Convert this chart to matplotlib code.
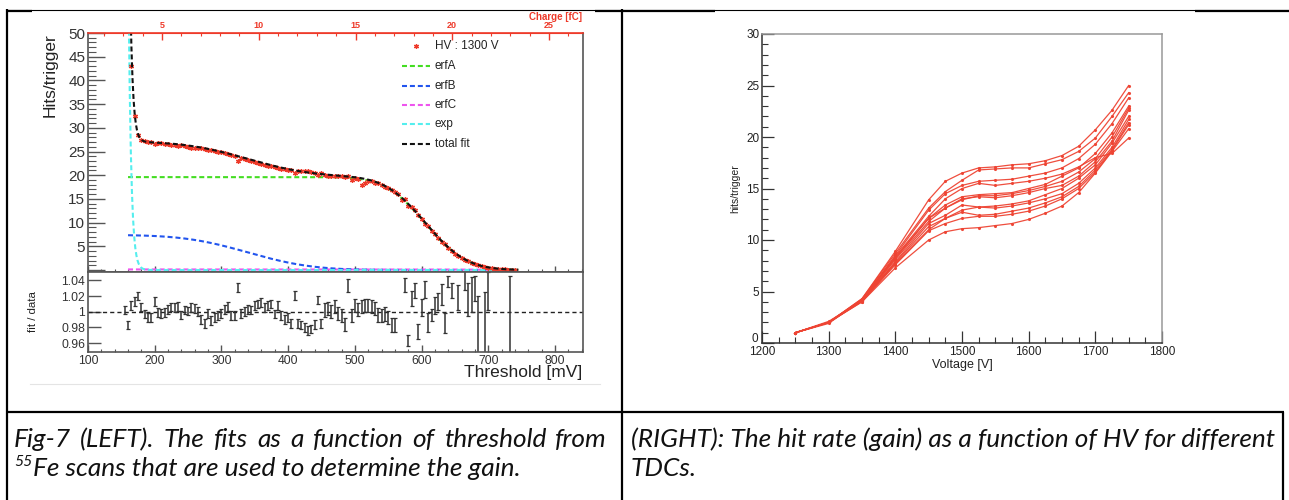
import math
import numpy as np
import matplotlib
matplotlib.use("Agg")
import matplotlib.pyplot as plt
from matplotlib.lines import Line2D
from matplotlib.ticker import MultipleLocator, FixedLocator
from matplotlib import font_manager

W, H = 1289, 500

# ---------------- left chart: threshold scan at HV 1300 V ----------------
scan_thr = list(range(165, 745, 5))
scan_hits = [
    43.0, 32.4, 28.4, 27.5, 27.3, 27.1, 27.0, 26.5, 26.8, 26.7,
    26.6, 26.5, 26.3, 26.3, 26.2, 26.3, 26.1, 26.0, 25.8, 25.7,
    25.8, 25.7, 25.6, 25.4, 25.3, 25.1, 25.0, 24.8, 24.6, 24.4,
    24.2, 24.1, 23.0, 23.6, 23.4, 23.2, 23.0, 22.8, 22.6, 22.4,
    22.2, 22.0, 21.9, 21.8, 21.6, 21.4, 21.3, 21.2, 21.0, 20.5,
    20.8, 20.9, 20.8, 20.9, 20.7, 20.5, 20.1, 20.4, 20.0, 19.9,
    19.9, 19.8, 19.8, 19.8, 19.7, 19.9, 19.0, 19.5, 19.3, 18.0,
    18.3, 18.8, 18.7, 18.4, 18.3, 18.0, 17.6, 17.3, 16.9, 16.5,
    16.0, 14.7, 14.9, 13.6, 13.2, 12.6, 11.6, 10.7, 9.7, 9.3,
    8.3, 7.5, 6.7, 5.9, 5.4, 4.6, 4.1, 3.4, 3.0, 2.5,
    2.1, 1.8, 1.5, 1.2, 1.0, 0.8, 0.6, 0.5, 0.4, 0.3,
    0.25, 0.18, 0.13, 0.1, 0.08, 0.05,
]

# fit components: amplitude, mean, sigma (erf) / amplitude, x0, tau (exp)
fit_lo, fit_hi = 160, 745
erfA_par = (19.6, 606, 48)
erfB_par = (7.4, 340, 75)
erfC_par = (0.12, 700, 60)
exp_par = (18.0, 165.5, 4.0)

# fit / data ratio panel
res_thr = list(range(155, 565, 5)) + [575, 580, 585, 590, 595, 600, 605, 610, 615, 620,
                                      625, 630, 635, 640, 645, 655, 665, 670, 675, 680,
                                      685, 695, 700, 732]
res_ratio = [
    1.002, 0.983, 1.008, 1.013, 1.020, 1.006, 0.997, 0.993, 0.993, 1.013,
    0.999, 0.998, 0.999, 1.003, 1.006, 1.005, 1.007, 0.996, 1.002, 1.001,
    1.005, 1.004, 1.000, 0.990, 0.985, 0.998, 0.989, 0.993, 0.995, 0.998,
    1.003, 1.007, 0.995, 0.995, 1.031, 0.998, 1.000, 1.003, 1.002, 1.008,
    1.010, 1.012, 1.005, 1.008, 1.010, 0.997, 1.008, 0.995, 0.990, 0.993,
    0.985, 1.021, 0.985, 0.983, 0.980, 0.976, 0.978, 0.984, 1.015, 0.985,
    1.002, 1.004, 1.000, 1.007, 0.998, 0.995, 0.984, 1.033, 0.995, 1.008,
    1.003, 1.007, 1.008, 1.008, 1.007, 1.004, 0.996, 0.995, 0.997, 0.993,
    0.983, 0.983,
    1.034, 0.963, 1.017, 1.027, 0.975, 1.005, 1.028, 0.986, 0.996, 1.008,
    1.013, 1.022, 0.986, 1.038, 1.027, 1.018, 1.040, 1.016, 1.022, 1.030,
    0.975, 0.980, 1.026, 0.995,
]
res_err = [0.0055] * 60 + [0.0085] * 22 + [
    0.009, 0.007, 0.010, 0.010, 0.010, 0.011, 0.011, 0.012, 0.008, 0.011,
    0.011, 0.013, 0.013, 0.007, 0.010, 0.016, 0.012, 0.021, 0.022, 0.016,
    0.045, 0.045, 0.024, 0.050,
]

# ---------------- right chart: hits/trigger vs HV, one line per TDC ----------------
hv_volt = [1250, 1300, 1350, 1400, 1450, 1475, 1500, 1525, 1550, 1575,
           1600, 1625, 1650, 1675, 1700, 1725, 1750]
tdc_01 = [1.0, 2.0, 4.3, 8.9, 13.9, 15.7, 16.5, 17.0, 17.1, 17.3, 17.4, 17.7, 18.2, 19.1, 20.7, 22.6, 25.0]
tdc_02 = [1.0, 2.0, 4.3, 8.7, 13.1, 14.7, 15.8, 16.8, 16.9, 17.0, 17.0, 17.4, 17.8, 18.6, 19.9, 22.0, 24.3]
tdc_03 = [1.0, 2.0, 4.2, 8.5, 12.9, 14.5, 15.3, 15.7, 15.8, 15.9, 16.2, 16.5, 17.0, 17.9, 19.3, 21.3, 23.8]
tdc_04 = [1.0, 2.0, 4.2, 8.4, 12.3, 14.0, 15.0, 15.5, 15.3, 15.5, 15.7, 16.0, 16.4, 17.1, 18.0, 18.4, 19.9]
tdc_05 = [1.0, 2.0, 4.2, 8.3, 12.1, 13.4, 14.2, 14.4, 14.5, 14.6, 15.0, 15.4, 16.2, 17.0, 18.4, 20.4, 23.0]
tdc_06 = [1.0, 1.9, 4.2, 8.2, 12.1, 13.1, 13.9, 14.3, 14.3, 14.5, 14.8, 15.2, 15.7, 16.6, 17.9, 20.0, 22.8]
tdc_07 = [1.0, 2.0, 4.1, 8.1, 11.8, 13.1, 14.0, 14.2, 14.1, 14.3, 14.6, 15.0, 15.3, 16.2, 17.6, 19.6, 22.6]
tdc_08 = [1.0, 2.0, 4.1, 7.9, 11.6, 12.4, 13.4, 13.2, 13.3, 13.5, 13.8, 14.4, 15.0, 16.0, 17.3, 19.4, 22.0]
tdc_09 = [1.0, 2.0, 4.1, 7.8, 11.3, 12.1, 12.9, 13.2, 13.1, 13.3, 13.6, 14.0, 14.5, 15.5, 17.0, 19.0, 21.7]
tdc_10 = [1.0, 2.1, 4.1, 7.7, 11.0, 12.1, 12.7, 12.4, 12.5, 12.8, 13.1, 13.6, 14.2, 15.2, 16.8, 18.8, 21.4]
tdc_11 = [1.0, 2.0, 4.0, 7.6, 10.9, 11.6, 12.1, 12.3, 12.3, 12.5, 12.8, 13.3, 14.0, 15.0, 16.6, 18.7, 21.2]
tdc_12 = [1.0, 2.0, 4.0, 7.3, 10.0, 10.8, 11.1, 11.2, 11.4, 11.6, 12.0, 12.6, 13.3, 14.6, 16.5, 18.6, 20.8]
tdc_curves = [tdc_01, tdc_02, tdc_03, tdc_04, tdc_05, tdc_06,
              tdc_07, tdc_08, tdc_09, tdc_10, tdc_11, tdc_12]

cap_left = ["Fig-7 (LEFT). The fits as a function of threshold from",
            "Fe scans that are used to determine the gain."]
cap_right = ["(RIGHT): The hit rate (gain) as a function of HV for different",
             "TDCs."]

plt.rcParams['font.family'] = ['Liberation Sans', 'DejaVu Sans']


def box(x0, y0, x1, y1):
    return [x0 / W, 1 - y1 / H, (x1 - x0) / W, (y1 - y0) / H]


def fx(x):
    return x / W


def fy(y):
    return 1 - y / H


def erfc_curve(x, amp, mu, sig):
    return np.array([amp / 2 * math.erfc((v - mu) / (math.sqrt(2) * sig)) for v in x])


def thr2q(t):
    return (np.asarray(t) - 66.0) / 29.0


def q2thr(q):
    return np.asarray(q) * 29.0 + 66.0


fig = plt.figure(figsize=(W / 100, H / 100), dpi=100)

grey = '#555555'
red = '#ee3a2a'
dash = (0, (2.4, 1.4))
c_green, c_blue, c_mag, c_cyan, c_black = '#44dd22', '#2255ee', '#ee55ee', '#55eeee', '#111111'

# ---- main fit panel ----
ax = fig.add_axes(box(88, 33, 583, 272))
ax.set_xlim(100, 842)
ax.set_ylim(-0.42, 50)
xf = np.linspace(fit_lo, fit_hi, 700)
fA = erfc_curve(xf, *erfA_par)
fB = erfc_curve(xf, *erfB_par)
fC = erfc_curve(xf, *erfC_par)
fE = exp_par[0] * np.exp(-(xf - exp_par[1]) / exp_par[2])
ftot = fA + fB + fC + fE
ax.plot(xf, fC, color=c_mag, lw=1.5, ls=dash)
ax.plot(xf, fA, color=c_green, lw=1.5, ls=dash)
ax.plot(xf, fB, color=c_blue, lw=1.5, ls=dash)
ax.plot(xf, fE, color=c_cyan, lw=1.5, ls=dash)
ax.plot(scan_thr, scan_hits, ls='none', marker=(6, 2, 0), ms=3.6, mew=0.9, color=red)
ax.plot(xf, ftot, color=c_black, lw=1.5, ls=dash)

ax.yaxis.set_major_locator(FixedLocator(range(0, 55, 5)))
ax.set_yticklabels([''] + [str(v) for v in range(5, 55, 5)])
ax.yaxis.set_minor_locator(MultipleLocator(1))
ax.xaxis.set_major_locator(MultipleLocator(100))
ax.xaxis.set_minor_locator(MultipleLocator(20))
ax.tick_params(axis='y', which='major', direction='in', length=12, width=1, color=grey,
               labelsize=11, pad=2, labelcolor='#333333')
ax.tick_params(axis='y', which='minor', direction='in', length=6, width=0.8, color=grey)
ax.tick_params(axis='x', which='major', direction='in', length=4.5, width=1, color=grey,
               labelbottom=False)
ax.tick_params(axis='x', which='minor', direction='in', length=2.2, width=0.8, color=grey)
for s in ('left', 'bottom', 'right'):
    ax.spines[s].set_color(grey)
    ax.spines[s].set_linewidth(1.2)
ax.spines['top'].set_color(red)
ax.spines['top'].set_linewidth(1.2)

sec = ax.secondary_xaxis('top', functions=(thr2q, q2thr))
sec.set_xticks([5, 10, 15, 20, 25])
sec.xaxis.set_minor_locator(MultipleLocator(1))
sec.tick_params(which='major', direction='in', length=5, width=1, color=red,
                labelcolor=red, labelsize=6.5, pad=2)
sec.tick_params(which='minor', direction='in', length=2.5, width=0.8, color=red)
sec.spines['top'].set_color(red)
for lab in sec.get_xticklabels():
    lab.set_fontweight('bold')
fig.text(fx(582), fy(17), 'Charge [fC]', color=red, fontsize=7, fontweight='bold',
         ha='right', va='center')

fig.text(fx(50), fy(33), 'Hits/trigger', rotation=90, ha='center', va='top',
         fontsize=12.5, color='#222222')

# legend
leg_rows = [('HV : 1300 V', None, 46), ('erfA', c_green, 66), ('erfB', c_blue, 86),
            ('erfC', c_mag, 105), ('exp', c_cyan, 124), ('total fit', c_black, 144)]
for label, col, yy in leg_rows:
    if col is None:
        fig.add_artist(Line2D([fx(416)], [fy(yy)], transform=fig.transFigure, ls='none',
                              marker=(6, 2, 0), ms=3.6, mew=0.9, color=red))
    else:
        fig.add_artist(Line2D([fx(402), fx(430)], [fy(yy), fy(yy)], transform=fig.transFigure,
                              color=col, lw=1.5, ls=dash))
    fig.text(fx(435), fy(yy), label, fontsize=8.5, va='center', ha='left', color='#222222')

# ---- ratio panel ----
ar = fig.add_axes(box(88, 272, 583, 352))
ar.set_xlim(100, 842)
ar.set_ylim(0.9487, 1.0506)
ar.axhline(1.0, color='#222222', lw=1, ls=(0, (3, 2.2)))
ar.errorbar(res_thr, res_ratio, yerr=res_err, fmt='none', ecolor='#333333',
            elinewidth=1.1, capsize=1.2, capthick=0.9)
ar.yaxis.set_major_locator(FixedLocator([0.96, 0.98, 1.0, 1.02, 1.04]))
ar.set_yticklabels(['0.96', '0.98', '1', '1.02', '1.04'])
ar.xaxis.set_major_locator(MultipleLocator(100))
ar.xaxis.set_minor_locator(MultipleLocator(20))
ar.tick_params(axis='y', which='major', direction='in', length=9, width=1, color=grey,
               labelsize=8.7, pad=2, labelcolor='#333333')
ar.tick_params(axis='x', which='major', direction='in', length=5, width=1, color=grey,
               labelsize=8.7, pad=2, labelcolor='#333333')
ar.tick_params(axis='x', which='minor', direction='in', length=2.5, width=0.8, color=grey)
for s in ar.spines.values():
    s.set_color(grey)
    s.set_linewidth(1.2)
fig.text(fx(33), fy(312), 'fit / data', rotation=90, ha='center', va='center',
         fontsize=8.2, color='#222222')
fig.text(fx(582), fy(372), 'Threshold [mV]', ha='right', va='center',
         fontsize=12.5, color='#222222')
fig.add_artist(Line2D([fx(30), fx(600)], [fy(384), fy(384)], transform=fig.transFigure,
                      color='#e4e4e4', lw=0.8))

# ---- right chart ----
bx = fig.add_axes(box(762, 34, 1162, 343))
bx.set_xlim(1200, 1800)
bx.set_ylim(0, 30)
for curve in tdc_curves:
    bx.plot(hv_volt, curve, color='#ee4433', lw=0.9, marker='.', ms=2.5, alpha=0.95)
bx.xaxis.set_major_locator(MultipleLocator(100))
bx.xaxis.set_minor_locator(MultipleLocator(25))
bx.yaxis.set_major_locator(FixedLocator(range(0, 35, 5)))
bx.set_yticklabels([''] + [str(v) for v in range(5, 35, 5)])
bx.yaxis.set_minor_locator(MultipleLocator(1))
bx.tick_params(which='major', direction='in', length=8.5, width=0.9, color='#333333',
               labelsize=8.5, pad=2, labelcolor='#222222')
bx.tick_params(which='minor', direction='in', length=4, width=0.8, color='#333333')
bx.spines['left'].set_color('#333333')
bx.spines['bottom'].set_color('#333333')
bx.spines['top'].set_color('#999999')
bx.spines['right'].set_color('#999999')
for s in bx.spines.values():
    s.set_linewidth(1.1)
bx.set_xlabel('Voltage [V]', fontsize=9, labelpad=1, color='#222222')
bx.set_ylabel('hits/trigger', fontsize=7.5, labelpad=4, color='#222222')
# the "0" of the y axis sits just above the "1200" of the x axis, as in ROOT
fig.text(fx(758), fy(344.5), '0', fontsize=8.5, ha='right', va='bottom', color='#222222')

# ---- table borders ----
def hline(y, x0, x1, lw):
    fig.add_artist(Line2D([fx(x0), fx(x1)], [fy(y), fy(y)], transform=fig.transFigure,
                          color='black', lw=lw, solid_capstyle='butt'))


def vline(x, y0, y1, lw):
    fig.add_artist(Line2D([fx(x), fx(x)], [fy(y0), fy(y1)], transform=fig.transFigure,
                          color='black', lw=lw, solid_capstyle='butt'))


hline(10, 7, 1289, 0.8)
hline(10.5, 7, 32, 1.6)
hline(10.5, 595, 715, 1.6)
hline(10.5, 1195, 1289, 1.6)
vline(7, 9, 500, 1.6)
vline(621.5, 9, 500, 1.6)
hline(412, 7, 1284, 1.6)
vline(1283, 412, 500, 1.6)

# ---- captions ----
def has_font(name):
    try:
        font_manager.findfont(font_manager.FontProperties(family=name), fallback_to_default=False)
        return True
    except Exception:
        return False


cap_family = 'Liberation Sans Narrow' if has_font('Liberation Sans Narrow') else 'Lato'
cap_kw = dict(family=[cap_family, 'DejaVu Sans'], style='italic', color='#111111')
renderer = fig.canvas.get_renderer()


def text_width(s, size):
    t = fig.text(0, 0, s, fontsize=size, **cap_kw)
    w = t.get_window_extent(renderer).width
    t.remove()
    return w


cap_size = 20 * 646 / text_width(cap_right[0], 20)
base1, base2 = 447, 476

# left line 1 is justified between x=14 and x=607
words = cap_left[0].split()
ww = [text_width(w, cap_size) for w in words]
gap = (593 - sum(ww)) / (len(words) - 1)
xpos = 14
for w, wid in zip(words, ww):
    fig.text(fx(xpos), fy(base1), w, fontsize=cap_size, va='baseline', ha='left', **cap_kw)
    xpos += wid + gap
sup_w = text_width('55', cap_size * 0.6)
fig.text(fx(14), fy(base2 - 10), '55', fontsize=cap_size * 0.6, va='baseline', ha='left', **cap_kw)
fig.text(fx(14 + sup_w + 1), fy(base2), cap_left[1], fontsize=cap_size, va='baseline',
         ha='left', **cap_kw)
fig.text(fx(631), fy(base1), cap_right[0], fontsize=cap_size, va='baseline', ha='left', **cap_kw)
fig.text(fx(631), fy(base2), cap_right[1], fontsize=cap_size, va='baseline', ha='left', **cap_kw)

fig.savefig('out.png', dpi=100)
